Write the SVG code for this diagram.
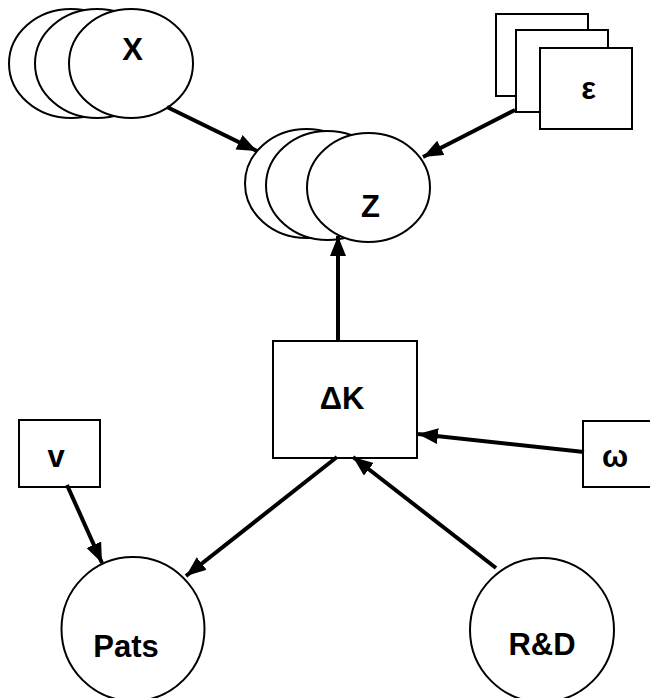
<svg xmlns="http://www.w3.org/2000/svg" width="650" height="698" viewBox="0 0 650 698">
<style>
.shape{fill:#fff;stroke:#000;stroke-width:2}
.lbl{font-family:"Liberation Sans",Arial,sans-serif;font-weight:bold;font-size:31px;text-anchor:middle;fill:#000}
.edge{stroke:#000;stroke-width:4;fill:none;marker-end:url(#ah)}
</style>
<defs>
<marker id="ah" markerUnits="userSpaceOnUse" markerWidth="22" markerHeight="18" refX="20" refY="8" orient="auto">
<path d="M0,0 L20,8 L0,16 z" fill="#000"/>
</marker>
</defs>
<rect width="650" height="698" fill="#fff"/>
<g id="node-X">
<ellipse class="shape" cx="71" cy="63.5" rx="62" ry="54.5"/>
<ellipse class="shape" cx="97" cy="63.5" rx="62" ry="54.5"/>
<ellipse class="shape" cx="131" cy="63.5" rx="62" ry="54.5"/>
<text class="lbl" x="132.5" y="60">X</text>
</g>
<g id="node-Z">
<ellipse class="shape" cx="306.5" cy="183.5" rx="61.5" ry="54.5"/>
<ellipse class="shape" cx="327.5" cy="185.5" rx="61.5" ry="54.5"/>
<ellipse class="shape" cx="368.5" cy="187.5" rx="61.5" ry="54.5"/>
<text class="lbl" x="370.5" y="217">Z</text>
</g>
<g id="node-eps">
<rect class="shape" x="496" y="14" width="92" height="82"/>
<rect class="shape" x="516" y="30" width="92" height="82"/>
<rect class="shape" x="540" y="48" width="92" height="81"/>
<text class="lbl" x="588.5" y="99">ε</text>
</g>
<g id="node-dK">
<rect class="shape" x="273" y="341" width="144" height="117"/>
<text class="lbl" x="342" y="409">ΔK</text>
</g>
<g id="node-v">
<rect class="shape" x="19" y="420" width="81" height="67"/>
<text class="lbl" x="56" y="467">v</text>
</g>
<g id="node-omega">
<rect class="shape" x="583" y="421" width="81" height="66"/>
<text class="lbl" x="615" y="467">ω</text>
</g>
<g id="node-Pats">
<ellipse class="shape" cx="133" cy="629" rx="71.5" ry="72"/>
<text class="lbl" x="126" y="657">Pats</text>
</g>
<g id="node-RD">
<ellipse class="shape" cx="542" cy="630" rx="72" ry="72"/>
<text class="lbl" x="542" y="655">R&amp;D</text>
</g>
<g id="connectors">
<line class="edge" x1="167" y1="107" x2="257" y2="151"/>
<line class="edge" x1="515" y1="110" x2="423" y2="157"/>
<line class="edge" x1="338" y1="341" x2="338" y2="236"/>
<line class="edge" x1="584" y1="452" x2="418" y2="434"/>
<line class="edge" x1="496" y1="568" x2="353" y2="457"/>
<line class="edge" x1="337" y1="457" x2="186" y2="576"/>
<line class="edge" x1="67" y1="485" x2="102" y2="563"/>
</g>
</svg>
